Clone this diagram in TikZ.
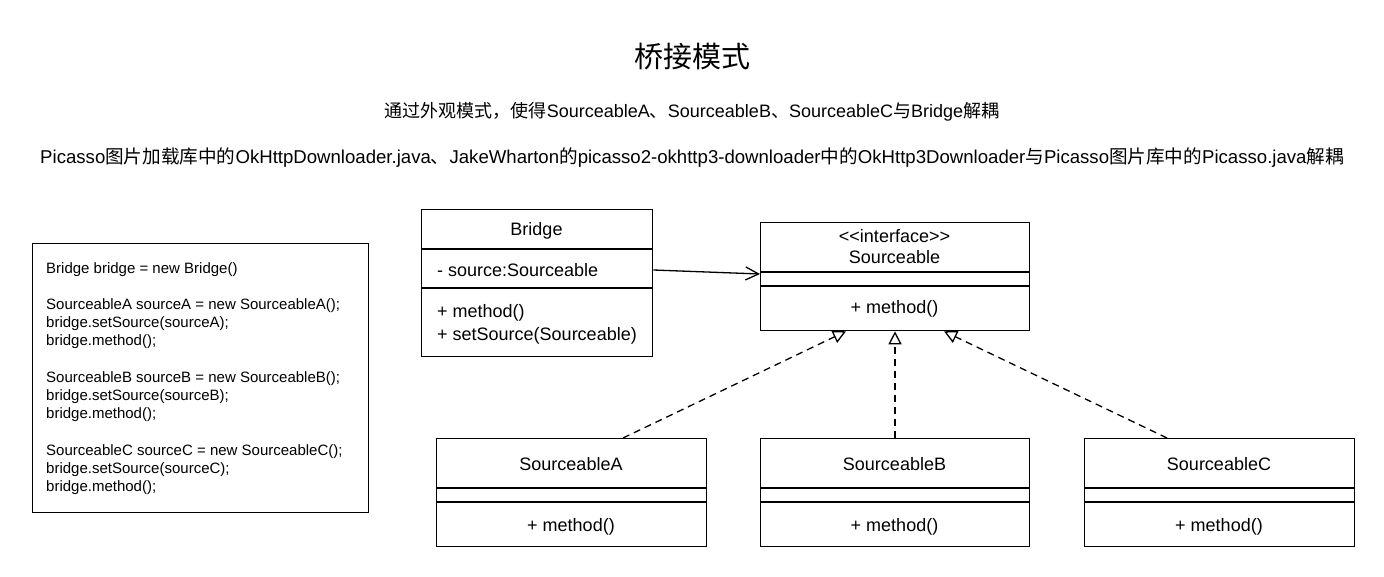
\documentclass[tikz,border=0pt]{standalone}
\usepackage{fontspec}
\setmainfont{Liberation Sans}
\newfontfamily\cjk{Noto Sans CJK SC}
\usetikzlibrary{arrows.meta}
\tikzset{
  umlbox/.style={draw, line width=1.3pt, inner sep=0pt, anchor=north west},
  sepline/.style={line width=1.3pt},
  lbl/.style={font=\fontsize{18}{21.6}\selectfont, inner sep=0pt, anchor=base},
  lbll/.style={font=\fontsize{18}{21.6}\selectfont, inner sep=0pt, anchor=base west},
  assoc/.style={line width=1.3pt, -{Straight Barb[length=13pt,width=13pt,line width=1.3pt]}},
  realize/.style={line width=1.3pt, dash pattern=on 7pt off 5pt, -{Triangle[open,length=13pt,width=13pt,line width=1.3pt,fill=white]}},
}
\begin{document}
\begin{tikzpicture}[x=1pt,y=-1pt]
\useasboundingbox (0,0) rectangle (1384,577);
% titles
\node[inner sep=0pt, font=\cjk\fontsize{29}{32}\selectfont] (title) at (692,57) {桥接模式};
\node[inner sep=0pt, font=\fontsize{18}{21.6}\selectfont] (sub1) at (692,112)
  {{\cjk 通过外观模式，使得}SourceableA{\cjk 、}SourceableB{\cjk 、}SourceableC{\cjk 与}Bridge{\cjk 解耦}};
\node[inner sep=0pt, font=\fontsize{18.6}{22}\selectfont] (sub2) at (692,158)
  {Picasso{\cjk 图片加载库中的}OkHttpDownloader.java{\cjk 、}JakeWharton{\cjk 的}picasso2-okhttp3-downloader{\cjk 中的}OkHttp3Downloader{\cjk 与}Picasso{\cjk 图片库中的}Picasso.java{\cjk 解耦}};

% code box
\node[umlbox, minimum width=336pt, minimum height=269pt] (code) at (32,243) {};
\node[inner sep=0pt, anchor=north west, align=left, font=\fontsize{15}{18.2}\selectfont] (codetext) at (46,262)
  {Bridge bridge = new Bridge()\\[18.2pt]
   SourceableA sourceA = new SourceableA();\\
   bridge.setSource(sourceA);\\
   bridge.method();\\[18.2pt]
   SourceableB sourceB = new SourceableB();\\
   bridge.setSource(sourceB);\\
   bridge.method();\\[18.2pt]
   SourceableC sourceC = new SourceableC();\\
   bridge.setSource(sourceC);\\
   bridge.method();};

% Bridge
\node[umlbox, minimum width=231pt, minimum height=147pt] (bridge) at (421,209) {};
\draw[sepline] (bridge.west |- 0,249) -- (bridge.east |- 0,249);
\draw[sepline] (bridge.west |- 0,288) -- (bridge.east |- 0,288);
\node[lbl] (bridgeName) at (536.5,235.5) {Bridge};
\node[lbll] (bridgeAttr) at (437,276.5) {- source:Sourceable};
\node[lbll] (bridgeM1) at (437,318) {+ method()};
\node[lbll] (bridgeM2) at (437,340) {+ setSource(Sourceable)};

% Sourceable
\node[umlbox, minimum width=269pt, minimum height=108pt] (src) at (760,222) {};
\draw[sepline] (src.west |- 0,272) -- (src.east |- 0,272);
\draw[sepline] (src.west |- 0,286) -- (src.east |- 0,286);
\node[lbl] (srcSt) at (894.5,243) {<{}<interface>{}>};
\node[lbl] (srcName) at (894.5,264) {Sourceable};
\node[lbl] (srcM) at (894.5,314) {+ method()};

% A, B, C
\node[umlbox, minimum width=270pt, minimum height=108pt] (a) at (436,438) {};
\draw[sepline] (a.west |- 0,488) -- (a.east |- 0,488);
\draw[sepline] (a.west |- 0,502) -- (a.east |- 0,502);
\node[lbl] (aName) at (571,470) {SourceableA};
\node[lbl] (aM) at (571,531) {+ method()};

\node[umlbox, minimum width=269pt, minimum height=108pt] (b) at (760,438) {};
\draw[sepline] (b.west |- 0,488) -- (b.east |- 0,488);
\draw[sepline] (b.west |- 0,502) -- (b.east |- 0,502);
\node[lbl] (bName) at (894.5,470) {SourceableB};
\node[lbl] (bM) at (894.5,531) {+ method()};

\node[umlbox, minimum width=270pt, minimum height=108pt] (c) at (1084,438) {};
\draw[sepline] (c.west |- 0,488) -- (c.east |- 0,488);
\draw[sepline] (c.west |- 0,502) -- (c.east |- 0,502);
\node[lbl] (cName) at (1219,470) {SourceableC};
\node[lbl] (cM) at (1219,531) {+ method()};

% connectors
\draw[assoc] (bridge.east |- 0,270) -- (src.west |- 0,274);
\draw[realize] (a.north -| 623,0) -- (src.south -| 846,0);
\draw[realize] (b.north -| 895,0) -- (src.south -| 895,0);
\draw[realize] (c.north -| 1167,0) -- (src.south -| 944,0);
\end{tikzpicture}
\end{document}
